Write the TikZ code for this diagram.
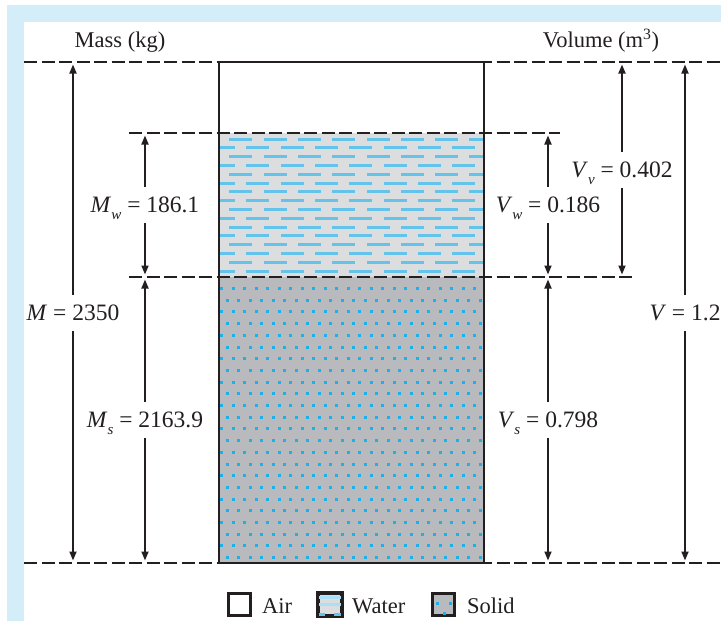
\documentclass[tikz,border=0pt]{standalone}
\usepackage{fontspec}
\setmainfont{Liberation Serif}
\usetikzlibrary{arrows.meta}
\definecolor{band}{HTML}{D4EEF9}
\definecolor{ink}{HTML}{231F20}
\definecolor{wgray}{HTML}{DCDDDF}
\definecolor{wblue}{HTML}{64C3EA}
\definecolor{sgray}{HTML}{B9BABD}
\definecolor{sblue}{HTML}{1EB0E8}
\newcommand\lblfont{\fontsize{23.5}{26}\selectfont}
\newcommand\hdrfont{\fontsize{22.5}{25}\selectfont}
\newcommand\subsc[1]{\raisebox{-0.3em}{\fontsize{15}{15}\selectfont\itshape #1}}
\tikzset{
  dashline/.style={ink, line width=2.3pt, dash pattern=on 13pt off 4.5pt},
  dimarrow/.style={ink, line width=1.8pt,
    {Triangle[length=9pt,width=7pt]}-{Triangle[length=9pt,width=7pt]},
    shorten >=2.5pt, shorten <=2.5pt},
  lbl/.style={font=\lblfont, text=ink, fill=white, inner xsep=1pt, inner ysep=0pt,
    text height=17pt, text depth=2pt, minimum height=36pt},
  hdr/.style={font=\hdrfont, text=ink, inner sep=0pt, anchor=base},
  legbox/.style={draw=ink, line width=2.6pt, minimum size=22.5pt, inner sep=0pt},
  legtext/.style={font=\hdrfont, text=ink, inner sep=0pt, anchor=base west},
}
\begin{document}
\begin{tikzpicture}[x=1pt,y=-1pt]
\useasboundingbox (0,0) rectangle (721,621);
\fill[white] (0,0) rectangle (721,621);
\fill[band] (7,5) rectangle (721,22);
\fill[band] (7,5) rectangle (24,621);

% water
\begin{scope}
  \clip (219,133) rectangle (484,277);
  \fill[wgray] (219,133) rectangle (484,277);
  \foreach \k in {0,...,15} {
    \pgfmathsetmacro\yy{139+8.8*\k}
    \pgfmathsetmacro\xo{195+17*mod(\k,2)}
    \foreach \j in {0,...,9} {
      \fill[wblue] (\xo+34.3*\j, \yy-1.5) rectangle ++(23,3);
    }
  }
\end{scope}
% solid
\begin{scope}
  \clip (219,277) rectangle (484,563);
  \fill[sgray] (219,277) rectangle (484,563);
  \foreach \r in {0,...,23} {
    \pgfmathsetmacro\yy{288.5+11.7*\r}
    \pgfmathsetmacro\xo{221.5+5.75*mod(\r,2)}
    \foreach \j in {0,...,23} {
      \fill[sblue] (\xo+11.5*\j-1.5, \yy-1.5) rectangle ++(3,3);
    }
  }
\end{scope}

% dashed level lines
\draw[dashline] (24,62) -- (721,62);
\draw[dashline] (129,133) -- (560,133);
\draw[dashline] (129,277) -- (635,277);
\draw[dashline] (24,563) -- (721,563);
% container
\draw[ink, line width=2.6pt] (219,62) rectangle (484,563);

% headers
\node[hdr] (mass) at (120,47) {Mass (kg)};
\node[hdr] (vol) at (601,47) {Volume (m\textsuperscript{3})};

% dimension coordinates
\coordinate (Mt) at (73,62);   \coordinate (Mb) at (73,563);
\coordinate (Mwt) at (145,133); \coordinate (Mwb) at (145,277);
\coordinate (Mst) at (145,277); \coordinate (Msb) at (145,563);
\coordinate (Vwt) at (548,133); \coordinate (Vwb) at (548,277);
\coordinate (Vst) at (548,277); \coordinate (Vsb) at (548,563);
\coordinate (Vvt) at (622,62);  \coordinate (Vvb) at (622,277);
\coordinate (Vt) at (685,62);   \coordinate (Vb) at (685,563);

\draw[dimarrow] (Mt) -- (Mb) node[lbl, midway] (lM) {\textit{M} = 2350};
\draw[dimarrow] (Mwt) -- (Mwb) node[lbl, midway] (lMw) {\textit{M}\subsc{w} = 186.1};
\draw[dimarrow] (Mst) -- (Msb) node[lbl, midway] (lMs) {\textit{M}\subsc{s} = 2163.9};
\draw[dimarrow] (Vwt) -- (Vwb) node[lbl, midway] (lVw) {\textit{V}\subsc{w} = 0.186};
\draw[dimarrow] (Vst) -- (Vsb) node[lbl, midway] (lVs) {\textit{V}\subsc{s} = 0.798};
\draw[dimarrow] (Vvt) -- (Vvb) node[lbl, midway] (lVv) {\textit{V}\subsc{v} = 0.402};
\draw[dimarrow] (Vt) -- (Vb) node[lbl, midway] (lV) {\textit{V} = 1.2};

% legend
\node[legbox, fill=white] (airbox) at (239.5,604.5) {};
\node[legtext] (airtxt) at (262,613.5) {Air};
\node[legbox, fill=wgray] (waterbox) at (330,604.5) {};
\fill[wblue!55] ([xshift=1.3pt,yshift=-4pt]waterbox.north west) rectangle ([xshift=-1.3pt,yshift=-7pt]waterbox.north east);
\fill[wblue!55] ([xshift=1.3pt,yshift=-11pt]waterbox.north west) rectangle ([xshift=-1.3pt,yshift=-14pt]waterbox.north east);
\fill[wblue] ([xshift=1.3pt,yshift=1.3pt]waterbox.south west) rectangle ++(6,-3);
\fill[wblue] ([xshift=-1.3pt,yshift=1.3pt]waterbox.south east) rectangle ++(-7,-3);
\draw[ink, line width=2.6pt] (waterbox.north west) rectangle (waterbox.south east);
\node[legtext] (watertxt) at (352,613.5) {Water};
\node[legbox, fill=sgray] (solidbox) at (443.5,604.5) {};
\fill[sblue] (436,601.5) rectangle ++(3,3);
\fill[sblue] (449,601.5) rectangle ++(3,3);
\fill[sblue] (442.5,611.5) rectangle ++(3,3);
\node[legtext] (solidtxt) at (467,613.5) {Solid};
\end{tikzpicture}
\end{document}
